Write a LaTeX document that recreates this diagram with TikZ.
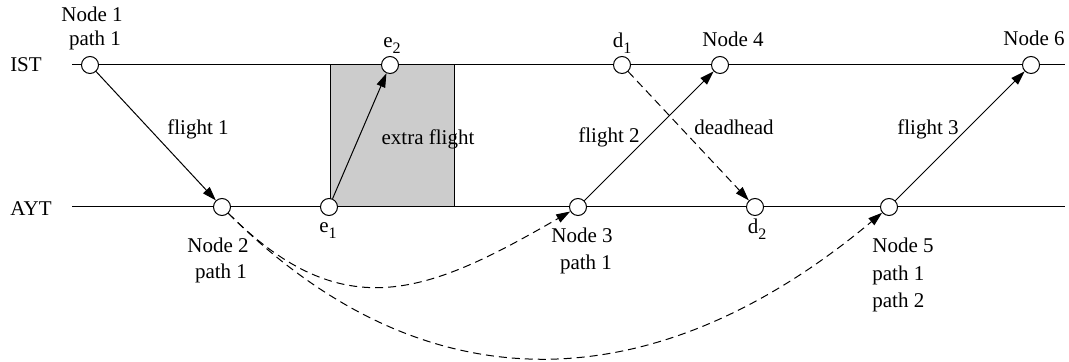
\documentclass[tikz,border=0pt]{standalone}
\usepackage{fontspec}
\setmainfont{Liberation Serif}
\usetikzlibrary{arrows.meta}
\newcommand\lowidx[1]{\raisebox{-3pt}{\fontsize{8}{9}\selectfont #1}}
\tikzset{
  stn/.style={circle,draw,fill=white,inner sep=0pt,minimum size=8.5pt,line width=0.5pt},
  lbl/.style={anchor=base,inner sep=0pt,font=\fontsize{10.5}{13}\selectfont},
  lbll/.style={anchor=base west,inner sep=0pt,font=\fontsize{10.5}{13}\selectfont},
  fl/.style={line width=0.5pt,-{Triangle[length=7pt,width=4.5pt]}},
  dh/.style={line width=0.5pt,dash pattern=on 4pt off 2.5pt,-{Triangle[length=7pt,width=4.5pt]}},
  track/.style={line width=0.5pt}
}
\begin{document}
\begin{tikzpicture}[x=0.5pt,y=-0.5pt]
\useasboundingbox (0,0) rectangle (1069,362);
% shaded region
\draw[fill=gray!40,line width=0.5pt] (330,65) rectangle (454,207);
% tracks
\coordinate (istA) at (72,65);
\coordinate (istB) at (1065,65);
\coordinate (aytA) at (72,207);
\coordinate (aytB) at (1065,207);
\draw[track] (istA) -- (istB);
\draw[track] (aytA) -- (aytB);
\node[lbl] (ist) at (26,72) {IST};
\node[lbl] (ayt) at (31,216) {AYT};
% stations
\node[stn] (n1) at (90,65) {};
\node[stn] (n2) at (222,207) {};
\node[stn] (e1) at (329,207) {};
\node[stn] (e2) at (390,65) {};
\node[stn] (d1) at (622,65) {};
\node[stn] (n4) at (720,65) {};
\node[stn] (n3) at (578,207) {};
\node[stn] (d2) at (755,207) {};
\node[stn] (n5) at (889,207) {};
\node[stn] (n6) at (1031,65) {};
% connectors
\draw[fl] (n1) -- (n2);
\draw[fl] (e1) -- (e2);
\draw[fl] (n3) -- (n4);
\draw[dh] (d1) -- (d2);
\draw[fl] (n5) -- (n6);
\draw[dh] (n2) .. controls (344,329) and (429,293) .. (n3);
\draw[dh] (n2) .. controls (431,416) and (662,397) .. (n5);
% labels
\node[lbl] (l1a) at (92,22) {Node 1};
\node[lbl] (l1b) at (95,46) {path 1};
\node[lbl] (l2a) at (218,253) {Node 2};
\node[lbl] (l2b) at (221,279) {path 1};
\node[lbl] (le1) at (328,233) {e\lowidx{1}};
\node[lbl] (le2) at (392,48) {e\lowidx{2}};
\node[lbl] (ld1) at (622,48) {d\lowidx{1}};
\node[lbl] (ld2) at (757,234) {d\lowidx{2}};
\node[lbl] (l3a) at (582,243) {Node 3};
\node[lbl] (l3b) at (586,270) {path 1};
\node[lbl] (l4) at (733,47) {Node 4};
\node[lbll] (l5a) at (872,253) {Node 5};
\node[lbll] (l5b) at (872,281) {path 1};
\node[lbll] (l5c) at (872,308) {path 2};
\node[lbl] (l6) at (1034,46) {Node 6};
\node[lbl] (f1) at (198,135) {flight 1};
\node[lbl] (ef) at (428,145) {extra flight};
\node[lbl] (f2) at (609,143) {flight 2};
\node[lbl] (dd) at (734,135) {deadhead};
\node[lbl] (f3) at (928,135) {flight 3};
\end{tikzpicture}
\end{document}
